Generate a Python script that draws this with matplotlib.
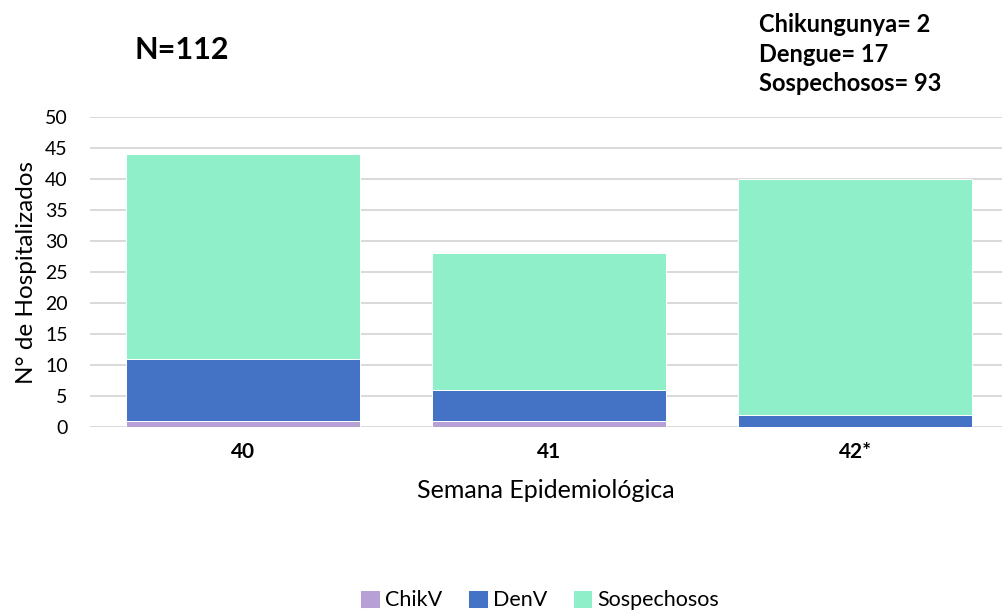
import numpy as np
import matplotlib.pyplot as plt

plt.rcParams['font.family'] = ['Lato', 'DejaVu Sans']

semanas = ['40', '41', '42*']
chikv = [1, 1, 0]
denv = [10, 5, 2]
sospechosos = [33, 22, 38]

colores = ['#B7A0D6', '#4472C4', '#8EEFC8']

fig = plt.figure(figsize=(10.02, 6.12), dpi=100)
ax = fig.add_axes([90 / 1002, 185 / 612, 912 / 1002, 310 / 612])

x = np.arange(len(semanas))
w = 0.765
base = np.zeros(len(semanas))
for vals, col, nom in zip([chikv, denv, sospechosos], colores, ['ChikV', 'DenV', 'Sospechosos']):
    ax.bar(x, vals, w, bottom=base, color=col, label=nom, edgecolor='white', linewidth=0.7, zorder=3)
    base = base + np.array(vals)

ax.set_ylim(0, 50)
ax.set_xlim(-0.5, 2.48)
ax.set_yticks(range(0, 51, 5))
ax.set_xticks(x)
ax.set_xticklabels(semanas, fontweight='bold', fontsize=15)
ax.tick_params(axis='y', labelsize=14, length=0, pad=16)
ax.tick_params(axis='x', length=0, pad=11)
ax.grid(axis='y', color='#D9D9D9', linewidth=1.4, zorder=0)
for s in ax.spines.values():
    s.set_visible(False)

ax.set_xlabel('Semana Epidemiológica', fontsize=18, labelpad=12)
ax.set_ylabel('N° de Hospitalizados', fontsize=17.5, labelpad=6)

fig.text(182 / 1002, 1 - 50 / 612, 'N=112', fontsize=22, fontweight='bold', ha='center', va='center')
fig.text(759 / 1002, 1 - 54 / 612, 'Chikungunya= 2\nDengue= 17\nSospechosos= 93', fontsize=17,
         fontweight='bold', ha='left', va='center', linespacing=1.36)

ax.legend(loc='center', bbox_to_anchor=(540 / 1002, 1 - 600 / 612), bbox_transform=fig.transFigure,
          ncol=3, frameon=False, fontsize=15.5, handlelength=0.9, handleheight=0.9,
          handletextpad=0.25, columnspacing=1.2)

fig.savefig('out.png', dpi=100)
